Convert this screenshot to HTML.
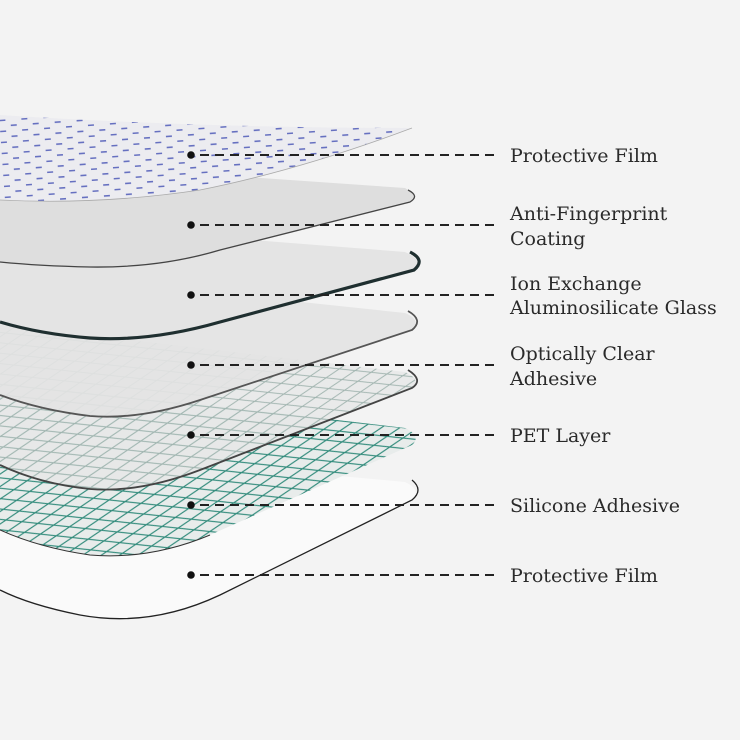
<!DOCTYPE html>
<html><head><meta charset="utf-8"><style>
html,body{margin:0;padding:0;background:#f3f3f3;}
svg{display:block}
text{font-family:"DejaVu Serif","Liberation Serif",serif;font-size:19px;fill:#2a2a2a;}
</style></head><body>
<svg width="740" height="740" viewBox="0 0 740 740">
<defs>
<pattern id="mesh" width="30" height="11" patternUnits="userSpaceOnUse" patternTransform="rotate(-14)">
<path d="M0,0 L30,11 M0,11 L30,0" stroke="#2f8a7a" stroke-width="1.1" fill="none"/>
</pattern>
<pattern id="meshg" width="30" height="11" patternUnits="userSpaceOnUse" patternTransform="rotate(-14)">
<path d="M0,0 L30,11 M0,11 L30,0" stroke="#9fb3ae" stroke-width="0.9" fill="none"/>
</pattern>
<pattern id="dots" width="22" height="11" patternUnits="userSpaceOnUse" patternTransform="rotate(-4)">
<rect x="2" y="4" width="6" height="1.6" fill="#6670c0"/>
<rect x="13" y="9.5" width="6" height="1.6" fill="#6670c0"/>
</pattern>
</defs>
<path d="M0,445 L405,482 Q422,490 412,500 L220,595 Q150,628 80,615 Q30,605 0,590 Z" fill="#fafafa"/>
<path d="M412,480 Q424,490 412,500 L220,595 Q150,628 80,615 Q30,605 0,590" fill="none" stroke="#222" stroke-width="1.3"/>
<path d="M0,380 L405,428 Q422,436 412,445 L210,535 Q150,560 90,555 Q40,548 0,530 Z" fill="#e8eceb"/>
<path d="M0,380 L405,428 Q422,436 412,445 L210,535 Q150,560 90,555 Q40,548 0,530 Z" fill="url(#mesh)"/>
<path d="M210,535 Q150,560 90,555 Q40,548 0,530" fill="none" stroke="#333" stroke-width="1"/>
<path d="M0,325 L405,372 Q422,380 412,388 L200,470 Q140,493 90,489 Q40,484 0,465 Z" fill="#e6e8e8" opacity="0.85"/>
<path d="M0,325 L405,372 Q422,380 412,388 L200,470 Q140,493 90,489 Q40,484 0,465 Z" fill="url(#meshg)"/>
<path d="M408,370 Q424,380 412,388 L200,470 Q140,493 90,489 Q40,484 0,465" fill="none" stroke="#444" stroke-width="1.8"/>
<path d="M0,270 L405,313 Q422,320 412,330 L200,400 Q140,420 90,416 Q40,410 0,395 Z" fill="#e3e3e3" opacity="0.9"/>
<path d="M408,311 Q424,320 412,330 L200,400 Q140,420 90,416 Q40,410 0,395" fill="none" stroke="#555" stroke-width="1.8"/>
<path d="M0,220 L405,252 Q424,260 414,270 L220,322 Q150,342 90,338 Q40,334 0,322 Z" fill="#e4e4e4"/>
<path d="M410,252 Q426,260 414,270 L220,322 Q150,342 90,338 Q40,334 0,322" fill="none" stroke="#1f2f30" stroke-width="3.2"/>
<path d="M0,160 L405,188 Q420,196 410,202 L220,250 Q160,268 90,267 Q40,266 0,262 Z" fill="#dedede"/>
<path d="M408,190 Q420,196 410,202 L220,250 Q160,268 90,267 Q40,266 0,262" fill="none" stroke="#444" stroke-width="1.3"/>
<path d="M0,115 Q200,128 412,128 Q300,170 200,190 Q100,205 0,200 Z" fill="#ececf0"/>
<path d="M0,115 Q200,128 412,128 Q300,170 200,190 Q100,205 0,200 Z" fill="url(#dots)"/>
<path d="M412,128 Q300,170 200,190 Q100,205 0,200" fill="none" stroke="#aaa" stroke-width="0.8"/>
<g stroke="#222" stroke-width="2" stroke-dasharray="9,6">
<line x1="200" y1="155" x2="498" y2="155"/>
<line x1="200" y1="225" x2="498" y2="225"/>
<line x1="200" y1="295" x2="498" y2="295"/>
<line x1="200" y1="365" x2="498" y2="365"/>
<line x1="200" y1="435" x2="498" y2="435"/>
<line x1="200" y1="505" x2="498" y2="505"/>
<line x1="200" y1="575" x2="498" y2="575"/>
</g>
<g fill="#111">
<circle cx="191" cy="155" r="3.8"/><circle cx="191" cy="225" r="3.8"/><circle cx="191" cy="295" r="3.8"/>
<circle cx="191" cy="365" r="3.8"/><circle cx="191" cy="435" r="3.8"/><circle cx="191" cy="505" r="3.8"/>
<circle cx="191" cy="575" r="3.8"/>
</g>
<text x="510" y="162">Protective Film</text>
<text x="510" y="220">Anti-Fingerprint</text>
<text x="510" y="245">Coating</text>
<text x="510" y="290">Ion Exchange</text>
<text x="510" y="314">Aluminosilicate Glass</text>
<text x="510" y="360">Optically Clear</text>
<text x="510" y="385">Adhesive</text>
<text x="510" y="442">PET Layer</text>
<text x="510" y="512">Silicone Adhesive</text>
<text x="510" y="582">Protective Film</text>
</svg>
</body></html>
